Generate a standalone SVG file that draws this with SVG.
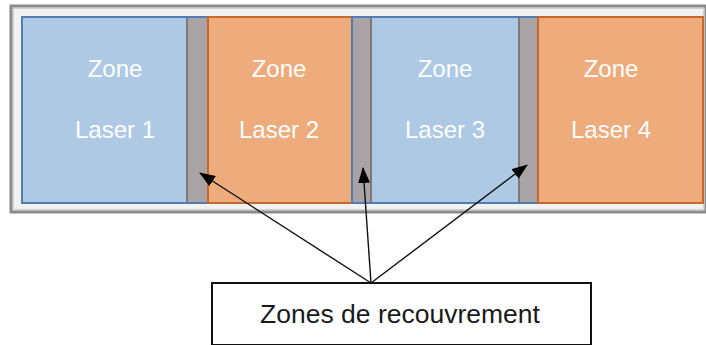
<svg xmlns="http://www.w3.org/2000/svg" width="706" height="345" viewBox="0 0 706 345">
<style>
.blue{fill:#adc9e4}
.orange{fill:#eeab7c}
.bstroke{fill:none;stroke:#4f7db3;stroke-width:2}
.ostroke{fill:none;stroke:#c9672a;stroke-width:2}
.ov{fill:#aaa3a5}
.ovedge{stroke:#7d7778;stroke-width:2}
.zt{font-family:"Liberation Sans",Arial,sans-serif;font-size:24px;fill:#ffffff;text-anchor:middle}
.lt{font-family:"Liberation Sans",Arial,sans-serif;font-size:26.5px;fill:#1a1a1a;text-anchor:middle}
.conn{stroke:#111;stroke-width:1.4;fill:none;marker-end:url(#ah)}
</style>
<defs>
<marker id="ah" markerWidth="16" markerHeight="12" refX="15" refY="6" orient="auto" markerUnits="userSpaceOnUse">
<path d="M0,0 L16,6 L0,12 Z" fill="#000"/>
</marker>
</defs>
<rect width="706" height="345" fill="#ffffff"/>
<g id="frame">
<rect x="11" y="6" width="695" height="206" fill="#f2f2f2" stroke="#8a8a8a" stroke-width="3"/>
<rect x="13.5" y="8.5" width="690" height="201" fill="none" stroke="#d0d0d0" stroke-width="1"/>
</g>
<g id="zone1">
<rect class="blue" x="22" y="17" width="186" height="186"/>
<rect class="ov" x="186" y="17" width="22" height="186"/>
<line class="ovedge" x1="187" y1="18" x2="187" y2="202"/>
<rect class="bstroke" x="22" y="17" width="186" height="186"/>
<text class="zt" x="115" y="77">Zone</text>
<text class="zt" x="115" y="138">Laser 1</text>
</g>
<g id="zone2">
<rect class="orange" x="208" y="17" width="144" height="186"/>
<rect class="ostroke" x="208" y="17" width="144" height="186"/>
<text class="zt" x="279" y="77">Zone</text>
<text class="zt" x="279" y="138">Laser 2</text>
</g>
<g id="zone3">
<rect class="blue" x="352" y="17" width="186" height="186"/>
<rect class="ov" x="352" y="17" width="20" height="186"/>
<line class="ovedge" x1="371" y1="18" x2="371" y2="202"/>
<rect class="ov" x="518" y="17" width="20" height="186"/>
<line class="ovedge" x1="519" y1="18" x2="519" y2="202"/>
<rect class="bstroke" x="352" y="17" width="186" height="186"/>
<text class="zt" x="445" y="77">Zone</text>
<text class="zt" x="445" y="138">Laser 3</text>
</g>
<g id="zone4">
<rect class="orange" x="538" y="17" width="165" height="186"/>
<rect class="ostroke" x="538" y="17" width="165" height="186"/>
<text class="zt" x="611" y="77">Zone</text>
<text class="zt" x="611" y="138">Laser 4</text>
</g>
<g id="label">
<rect x="212" y="283" width="379" height="62" fill="#ffffff" stroke="#111" stroke-width="2"/>
<text class="lt" x="400" y="323">Zones de recouvrement</text>
</g>
<g id="connectors">
<line class="conn" x1="371" y1="283" x2="200" y2="173"/>
<line class="conn" x1="371" y1="283" x2="363" y2="168"/>
<line class="conn" x1="371" y1="283" x2="527" y2="165"/>
</g>
</svg>
